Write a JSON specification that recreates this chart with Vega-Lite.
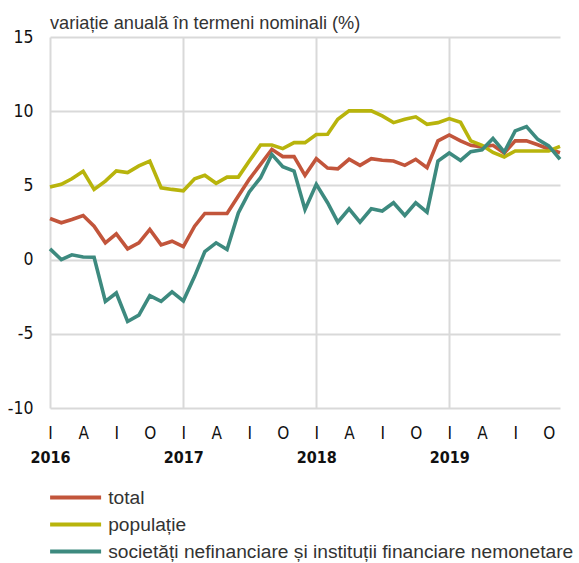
{
  "$schema": "https://vega.github.io/schema/vega-lite/v6.json",
  "width": 510,
  "height": 371,
  "autosize": "none",
  "padding": {"left": 50, "top": 37, "right": 19, "bottom": 155},
  "config": {"view": {"stroke": null}},
  "title": {"text": "variație anuală în termeni nominali (%)", "anchor": "start", "frame": "group", "offset": -5.5, "fontSize": 18.2, "font": "Liberation Sans", "fontWeight": "normal", "color": "#333333"},
  "data": {"values": [
    {"luna":"2016-01-01","serie":"total","v":2.77},{"luna":"2016-02-01","serie":"total","v":2.48},{"luna":"2016-03-01","serie":"total","v":2.70},{"luna":"2016-04-01","serie":"total","v":2.97},{"luna":"2016-05-01","serie":"total","v":2.25},{"luna":"2016-06-01","serie":"total","v":1.13},{"luna":"2016-07-01","serie":"total","v":1.73},{"luna":"2016-08-01","serie":"total","v":0.72},{"luna":"2016-09-01","serie":"total","v":1.13},{"luna":"2016-10-01","serie":"total","v":2.03},{"luna":"2016-11-01","serie":"total","v":0.99},{"luna":"2016-12-01","serie":"total","v":1.24},
    {"luna":"2017-01-01","serie":"total","v":0.88},{"luna":"2017-02-01","serie":"total","v":2.25},{"luna":"2017-03-01","serie":"total","v":3.11},{"luna":"2017-04-01","serie":"total","v":3.11},{"luna":"2017-05-01","serie":"total","v":3.11},{"luna":"2017-06-01","serie":"total","v":4.28},{"luna":"2017-07-01","serie":"total","v":5.41},{"luna":"2017-08-01","serie":"total","v":6.42},{"luna":"2017-09-01","serie":"total","v":7.43},{"luna":"2017-10-01","serie":"total","v":6.94},{"luna":"2017-11-01","serie":"total","v":6.94},{"luna":"2017-12-01","serie":"total","v":5.68},
    {"luna":"2018-01-01","serie":"total","v":6.80},{"luna":"2018-02-01","serie":"total","v":6.17},{"luna":"2018-03-01","serie":"total","v":6.12},{"luna":"2018-04-01","serie":"total","v":6.76},{"luna":"2018-05-01","serie":"total","v":6.35},{"luna":"2018-06-01","serie":"total","v":6.80},{"luna":"2018-07-01","serie":"total","v":6.69},{"luna":"2018-08-01","serie":"total","v":6.64},{"luna":"2018-09-01","serie":"total","v":6.35},{"luna":"2018-10-01","serie":"total","v":6.76},{"luna":"2018-11-01","serie":"total","v":6.19},{"luna":"2018-12-01","serie":"total","v":8.00},
    {"luna":"2019-01-01","serie":"total","v":8.40},{"luna":"2019-02-01","serie":"total","v":8.00},{"luna":"2019-03-01","serie":"total","v":7.70},{"luna":"2019-04-01","serie":"total","v":7.60},{"luna":"2019-05-01","serie":"total","v":7.70},{"luna":"2019-06-01","serie":"total","v":7.18},{"luna":"2019-07-01","serie":"total","v":8.00},{"luna":"2019-08-01","serie":"total","v":8.00},{"luna":"2019-09-01","serie":"total","v":7.74},{"luna":"2019-10-01","serie":"total","v":7.45},{"luna":"2019-11-01","serie":"total","v":7.20},
    {"luna":"2016-01-01","serie":"populație","v":4.89},{"luna":"2016-02-01","serie":"populație","v":5.07},{"luna":"2016-03-01","serie":"populație","v":5.45},{"luna":"2016-04-01","serie":"populație","v":5.95},{"luna":"2016-05-01","serie":"populație","v":4.73},{"luna":"2016-06-01","serie":"populație","v":5.29},{"luna":"2016-07-01","serie":"populație","v":5.97},{"luna":"2016-08-01","serie":"populație","v":5.86},{"luna":"2016-09-01","serie":"populație","v":6.31},{"luna":"2016-10-01","serie":"populație","v":6.64},{"luna":"2016-11-01","serie":"populație","v":4.84},{"luna":"2016-12-01","serie":"populație","v":4.73},
    {"luna":"2017-01-01","serie":"populație","v":4.64},{"luna":"2017-02-01","serie":"populație","v":5.45},{"luna":"2017-03-01","serie":"populație","v":5.68},{"luna":"2017-04-01","serie":"populație","v":5.14},{"luna":"2017-05-01","serie":"populație","v":5.56},{"luna":"2017-06-01","serie":"populație","v":5.56},{"luna":"2017-07-01","serie":"populație","v":6.64},{"luna":"2017-08-01","serie":"populație","v":7.72},{"luna":"2017-09-01","serie":"populație","v":7.72},{"luna":"2017-10-01","serie":"populație","v":7.48},{"luna":"2017-11-01","serie":"populație","v":7.88},{"luna":"2017-12-01","serie":"populație","v":7.88},
    {"luna":"2018-01-01","serie":"populație","v":8.43},{"luna":"2018-02-01","serie":"populație","v":8.45},{"luna":"2018-03-01","serie":"populație","v":9.46},{"luna":"2018-04-01","serie":"populație","v":10.02},{"luna":"2018-05-01","serie":"populație","v":10.02},{"luna":"2018-06-01","serie":"populație","v":10.02},{"luna":"2018-07-01","serie":"populație","v":9.68},{"luna":"2018-08-01","serie":"populație","v":9.23},{"luna":"2018-09-01","serie":"populație","v":9.46},{"luna":"2018-10-01","serie":"populație","v":9.62},{"luna":"2018-11-01","serie":"populație","v":9.12},{"luna":"2018-12-01","serie":"populație","v":9.23},
    {"luna":"2019-01-01","serie":"populație","v":9.50},{"luna":"2019-02-01","serie":"populație","v":9.25},{"luna":"2019-03-01","serie":"populație","v":8.00},{"luna":"2019-04-01","serie":"populație","v":7.70},{"luna":"2019-05-01","serie":"populație","v":7.22},{"luna":"2019-06-01","serie":"populație","v":6.92},{"luna":"2019-07-01","serie":"populație","v":7.32},{"luna":"2019-08-01","serie":"populație","v":7.32},{"luna":"2019-09-01","serie":"populație","v":7.32},{"luna":"2019-10-01","serie":"populație","v":7.32},{"luna":"2019-11-01","serie":"populație","v":7.63},
    {"luna":"2016-01-01","serie":"societăți nefinanciare și instituții financiare nemonetare","v":0.72},{"luna":"2016-02-01","serie":"societăți nefinanciare și instituții financiare nemonetare","v":0.0},{"luna":"2016-03-01","serie":"societăți nefinanciare și instituții financiare nemonetare","v":0.32},{"luna":"2016-04-01","serie":"societăți nefinanciare și instituții financiare nemonetare","v":0.18},{"luna":"2016-05-01","serie":"societăți nefinanciare și instituții financiare nemonetare","v":0.16},{"luna":"2016-06-01","serie":"societăți nefinanciare și instituții financiare nemonetare","v":-2.82},{"luna":"2016-07-01","serie":"societăți nefinanciare și instituții financiare nemonetare","v":-2.25},{"luna":"2016-08-01","serie":"societăți nefinanciare și instituții financiare nemonetare","v":-4.17},{"luna":"2016-09-01","serie":"societăți nefinanciare și instituții financiare nemonetare","v":-3.74},{"luna":"2016-10-01","serie":"societăți nefinanciare și instituții financiare nemonetare","v":-2.43},{"luna":"2016-11-01","serie":"societăți nefinanciare și instituții financiare nemonetare","v":-2.82},{"luna":"2016-12-01","serie":"societăți nefinanciare și instituții financiare nemonetare","v":-2.18},
    {"luna":"2017-01-01","serie":"societăți nefinanciare și instituții financiare nemonetare","v":-2.78},{"luna":"2017-02-01","serie":"societăți nefinanciare și instituții financiare nemonetare","v":-1.13},{"luna":"2017-03-01","serie":"societăți nefinanciare și instituții financiare nemonetare","v":0.54},{"luna":"2017-04-01","serie":"societăți nefinanciare și instituții financiare nemonetare","v":1.13},{"luna":"2017-05-01","serie":"societăți nefinanciare și instituții financiare nemonetare","v":0.68},{"luna":"2017-06-01","serie":"societăți nefinanciare și instituții financiare nemonetare","v":3.15},{"luna":"2017-07-01","serie":"societăți nefinanciare și instituții financiare nemonetare","v":4.56},{"luna":"2017-08-01","serie":"societăți nefinanciare și instituții financiare nemonetare","v":5.52},{"luna":"2017-09-01","serie":"societăți nefinanciare și instituții financiare nemonetare","v":7.09},{"luna":"2017-10-01","serie":"societăți nefinanciare și instituții financiare nemonetare","v":6.26},{"luna":"2017-11-01","serie":"societăți nefinanciare și instituții financiare nemonetare","v":5.97},{"luna":"2017-12-01","serie":"societăți nefinanciare și instituții financiare nemonetare","v":3.38},
    {"luna":"2018-01-01","serie":"societăți nefinanciare și instituții financiare nemonetare","v":5.07},{"luna":"2018-02-01","serie":"societăți nefinanciare și instituții financiare nemonetare","v":3.83},{"luna":"2018-03-01","serie":"societăți nefinanciare și instituții financiare nemonetare","v":2.52},{"luna":"2018-04-01","serie":"societăți nefinanciare și instituții financiare nemonetare","v":3.42},{"luna":"2018-05-01","serie":"societăți nefinanciare și instituții financiare nemonetare","v":2.52},{"luna":"2018-06-01","serie":"societăți nefinanciare și instituții financiare nemonetare","v":3.42},{"luna":"2018-07-01","serie":"societăți nefinanciare și instituții financiare nemonetare","v":3.27},{"luna":"2018-08-01","serie":"societăți nefinanciare și instituții financiare nemonetare","v":3.83},{"luna":"2018-09-01","serie":"societăți nefinanciare și instituții financiare nemonetare","v":2.97},{"luna":"2018-10-01","serie":"societăți nefinanciare și instituții financiare nemonetare","v":3.83},{"luna":"2018-11-01","serie":"societăți nefinanciare și instituții financiare nemonetare","v":3.20},{"luna":"2018-12-01","serie":"societăți nefinanciare și instituții financiare nemonetare","v":6.64},
    {"luna":"2019-01-01","serie":"societăți nefinanciare și instituții financiare nemonetare","v":7.18},{"luna":"2019-02-01","serie":"societăți nefinanciare și instituții financiare nemonetare","v":6.68},{"luna":"2019-03-01","serie":"societăți nefinanciare și instituții financiare nemonetare","v":7.27},{"luna":"2019-04-01","serie":"societăți nefinanciare și instituții financiare nemonetare","v":7.40},{"luna":"2019-05-01","serie":"societăți nefinanciare și instituții financiare nemonetare","v":8.16},{"luna":"2019-06-01","serie":"societăți nefinanciare și instituții financiare nemonetare","v":7.25},{"luna":"2019-07-01","serie":"societăți nefinanciare și instituții financiare nemonetare","v":8.67},{"luna":"2019-08-01","serie":"societăți nefinanciare și instituții financiare nemonetare","v":8.96},{"luna":"2019-09-01","serie":"societăți nefinanciare și instituții financiare nemonetare","v":8.10},{"luna":"2019-10-01","serie":"societăți nefinanciare și instituții financiare nemonetare","v":7.66},{"luna":"2019-11-01","serie":"societăți nefinanciare și instituții financiare nemonetare","v":6.76}
  ]},
  "encoding": {
    "y": {"field": "v", "type": "quantitative",
      "scale": {"domain": [-10, 15], "nice": false, "zero": false},
      "axis": {"title": null, "values": [-10, -5, 0, 5, 10, 15], "grid": true, "gridColor": "#d9d9d9", "gridWidth": 2, "domain": false, "ticks": false, "tickSize": 0, "labelPadding": 17, "labelExpr": "datum.value < 0 ? '-' + abs(datum.value) : '' + datum.value", "labelFont": "DejaVu Sans Condensed", "labelFontSize": 17.5, "labelColor": "#111111"}},
    "color": {"field": "serie", "type": "nominal",
      "scale": {"domain": ["total", "populație", "societăți nefinanciare și instituții financiare nemonetare"], "range": ["#c2553b", "#b8b40c", "#3d8a7f"]},
      "legend": {"title": null, "orient": "none", "legendX": 16, "legendY": 451, "direction": "vertical", "symbolType": "M-5.1,0H5.1", "symbolSize": 100, "symbolStrokeWidth": 4, "labelOffset": 23, "rowPadding": 7, "labelFont": "Liberation Sans", "labelFontSize": 19.2, "labelColor": "#333333", "labelLimit": 600, "padding": 0}}
  },
  "layer": [
    {
      "mark": {"type": "line", "strokeWidth": 3.6, "strokeJoin": "miter"},
      "encoding": {
        "x": {"field": "luna", "type": "temporal",
          "scale": {"type": "utc", "domain": [{"year": 2016, "month": 1, "date": 1, "utc": true}, {"year": 2019, "month": 11, "date": 1, "utc": true}], "nice": false},
          "axis": {"title": null, "orient": "bottom", "grid": false, "domain": false, "ticks": false, "tickSize": 0, "labelPadding": 17,
            "values": [
              {"year": 2016, "month": 1, "date": 1, "utc": true}, {"year": 2016, "month": 4, "date": 1, "utc": true}, {"year": 2016, "month": 7, "date": 1, "utc": true}, {"year": 2016, "month": 10, "date": 1, "utc": true},
              {"year": 2017, "month": 1, "date": 1, "utc": true}, {"year": 2017, "month": 4, "date": 1, "utc": true}, {"year": 2017, "month": 7, "date": 1, "utc": true}, {"year": 2017, "month": 10, "date": 1, "utc": true},
              {"year": 2018, "month": 1, "date": 1, "utc": true}, {"year": 2018, "month": 4, "date": 1, "utc": true}, {"year": 2018, "month": 7, "date": 1, "utc": true}, {"year": 2018, "month": 10, "date": 1, "utc": true},
              {"year": 2019, "month": 1, "date": 1, "utc": true}, {"year": 2019, "month": 4, "date": 1, "utc": true}, {"year": 2019, "month": 7, "date": 1, "utc": true}, {"year": 2019, "month": 10, "date": 1, "utc": true}
            ],
            "labelExpr": "utcmonth(datum.value) == 0 ? 'I' : utcmonth(datum.value) == 3 ? 'A' : utcmonth(datum.value) == 6 ? 'I' : 'O'",
            "labelFont": "DejaVu Sans Condensed", "labelFontSize": 17, "labelColor": "#111111", "labelAlign": "center", "labelOverlap": false, "labelFlush": false}}
      }
    },
    {
      "mark": {"type": "line", "opacity": 0},
      "encoding": {
        "x": {"field": "luna", "type": "temporal",
          "axis": {"title": null, "orient": "bottom", "grid": true, "gridColor": "#d9d9d9", "gridWidth": 2, "domain": false, "ticks": false, "tickSize": 0, "labelPadding": 41,
            "values": [{"year": 2016, "month": 1, "date": 1, "utc": true}, {"year": 2017, "month": 1, "date": 1, "utc": true}, {"year": 2018, "month": 1, "date": 1, "utc": true}, {"year": 2019, "month": 1, "date": 1, "utc": true}],
            "labelExpr": "utcFormat(datum.value, '%Y')",
            "labelFont": "DejaVu Sans Condensed", "labelFontSize": 16, "labelFontWeight": "bold", "labelColor": "#111111", "labelAlign": "center", "labelOverlap": false, "labelFlush": false}}
      }
    }
  ],
  "resolve": {"axis": {"x": "independent"}}
}
